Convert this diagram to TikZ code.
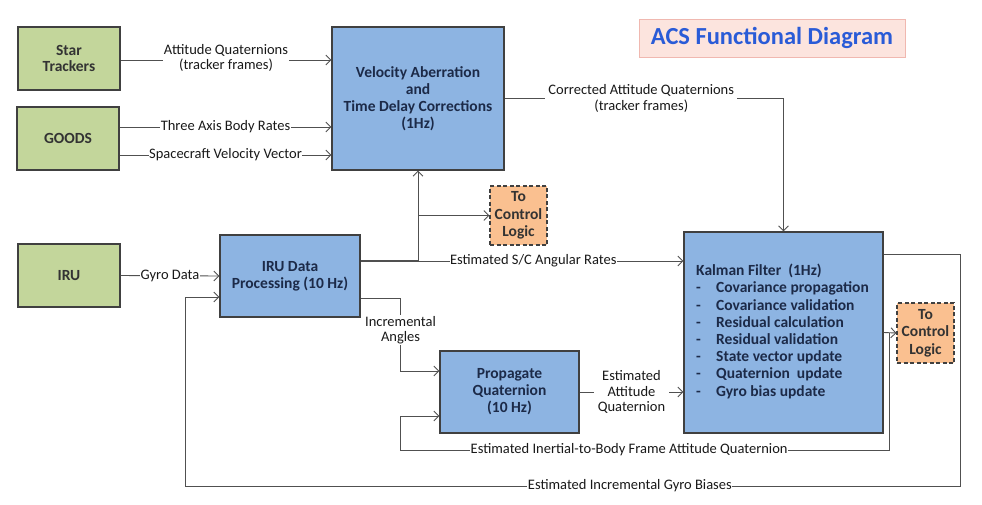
\documentclass[tikz,border=0pt]{standalone}
\usepackage{fontspec}
\setmainfont{Carlito}
\usetikzlibrary{arrows.meta,calc}
\definecolor{grfill}{HTML}{C3D69B}
\definecolor{blfill}{HTML}{8DB4E2}
\definecolor{orfill}{HTML}{FAC090}
\definecolor{lncol}{HTML}{505050}
\definecolor{txtblue}{HTML}{1C2A48}
\definecolor{ttlblue}{HTML}{2A5BD7}
\definecolor{ttlfill}{HTML}{FCE4DE}
\definecolor{ttlbord}{HTML}{F0B8B0}
\tikzset{
  gbox/.style={draw=black!75, line width=1.1pt, fill=grfill, align=center, font=\fontsize{15.5}{16.5}\selectfont\bfseries, text=black!80, inner sep=0pt},
  bbox/.style={draw=black!75, line width=1.1pt, fill=blfill, align=center, font=\fontsize{15.5}{17}\selectfont\bfseries, text=txtblue, inner sep=0pt},
  obox/.style={draw=black!75, line width=1.1pt, dashed, dash pattern=on 4pt off 2.5pt, fill=orfill, align=center, font=\fontsize{15.5}{17.5}\selectfont\bfseries, text=black!80, inner sep=0pt},
  arr/.style={draw=lncol, line width=0.9pt, -{Straight Barb[length=5pt,width=10pt,line width=0.9pt]}},
  ln/.style={draw=lncol, line width=0.9pt},
  lbl/.style={fill=white, inner sep=1pt, align=center, font=\fontsize{14.5}{15.5}\selectfont, text=black!90},
}
\begin{document}
\begin{tikzpicture}[x=1pt,y=-1pt]
\useasboundingbox (0,0) rectangle (982,504);
% title
\node[draw=ttlbord, fill=ttlfill, line width=0.8pt, minimum width=266pt, minimum height=38pt, font=\fontsize{24.5}{26}\selectfont\bfseries, text=ttlblue] (title) at (772,38) {ACS Functional Diagram};
% boxes
\node[gbox, minimum width=102pt, minimum height=63pt] (star) at (69,58.5) {Star\\Trackers};
\node[gbox, minimum width=102pt, minimum height=63pt] (goods) at (68,138.5) {GOODS};
\node[gbox, minimum width=102pt, minimum height=63pt] (iru) at (69,275.5) {IRU};
\node[bbox, minimum width=172pt, minimum height=143pt] (va) at (418,98.5) {Velocity Aberration\\and\\Time Delay Corrections\\(1Hz)};
\node[bbox, minimum width=140pt, minimum height=82pt] (irudp) at (290,276) {IRU Data\\Processing (10 Hz)};
\node[obox, minimum width=57pt, minimum height=59pt] (tcl1) at (518.5,215.5) {To\\Control\\Logic};
\node[bbox, minimum width=139pt, minimum height=82pt] (prop) at (509.5,392) {Propagate\\Quaternion\\(10 Hz)};
\node[bbox, minimum width=199pt, minimum height=201pt] (kal) at (783.5,332.5) {};
\node[anchor=north west, align=left, inner sep=0pt, font=\fontsize{15.5}{17.2}\selectfont\bfseries, text=txtblue] (kaltxt) at (696,264) {Kalman Filter\ \ (1Hz)\\
\makebox[20pt][l]{-}Covariance propagation\\
\makebox[20pt][l]{-}Covariance validation\\
\makebox[20pt][l]{-}Residual calculation\\
\makebox[20pt][l]{-}Residual validation\\
\makebox[20pt][l]{-}State vector update\\
\makebox[20pt][l]{-}Quaternion\ \ update\\
\makebox[20pt][l]{-}Gyro bias update};
\node[obox, minimum width=57pt, minimum height=60pt] (tcl2) at (925.5,333) {To\\Control\\Logic};
% coordinates
\coordinate (sA) at (star.east |- 0,60);
\coordinate (gA) at ([yshift=11.5pt]goods.east);
\coordinate (gB) at ([yshift=-16.5pt]goods.east);
\coordinate (dA) at ([yshift=15pt]irudp.east);
\coordinate (jn) at (dA -| va.south);
\coordinate (iA) at ([yshift=-22pt]irudp.east);
\coordinate (pA) at ([yshift=21pt]prop.west);
\coordinate (pB) at ([yshift=-24pt]prop.west);
\coordinate (kB) at ([yshift=78.5pt]kal.east);
\coordinate (iB) at ([yshift=-21pt]irudp.west);
\coordinate (fb1) at (960,486);
\coordinate (fb2) at (185,486);
\coordinate (kq) at ([xshift=6pt]kal.east);
\coordinate (lq) at (400,450);
% connectors
\draw[arr] (sA) -- (sA -| va.west) node[lbl, midway, yshift=2pt] {Attitude Quaternions\\(tracker frames)};
\draw[arr] (gA) -- (gA -| va.west) node[lbl, midway, inner xsep=0.5pt] {Three Axis Body Rates};
\draw[arr] (gB) -- (gB -| va.west) node[lbl, midway, inner xsep=0.5pt] {Spacecraft Velocity Vector};
\draw[arr] (va.east) -| node[lbl, pos=0.245, inner xsep=3pt] {Corrected Attitude Quaternions\\(tracker frames)} (kal.north);
\draw[arr] (iru.east) -- node[lbl, inner xsep=0.5pt] {Gyro Data} (irudp.west);
\draw[arr] (dA) -- node[lbl, pos=0.535, inner xsep=0.5pt] {Estimated S/C Angular Rates} (dA -| kal.west);
\draw[ln, line width=2pt] (dA) -- (jn);
\draw[arr] (jn) -- (va.south);
\draw[arr] (jn |- tcl1.west) -- (tcl1.west);
\draw[arr] (iA) -- ++(40,0) |- node[lbl, pos=0.22] {Incremental\\Angles} (pA);
\draw[arr] (prop.east) -- node[lbl, inner xsep=4pt] {Estimated\\Attitude\\Quaternion} (prop.east -| kal.west);
\draw[arr] (kal.east) -- (tcl2.west);
\draw[ln] (kq) |- node[lbl, pos=0.766, inner xsep=0.5pt] {Estimated Inertial-to-Body Frame Attitude Quaternion} (lq);
\draw[arr] (lq) |- (pB);
\draw[ln] (kB) -| (fb1) -- node[lbl, pos=0.426, inner xsep=0.5pt] {Estimated Incremental Gyro Biases} (fb2);
\draw[arr] (fb2) |- (iB);
\end{tikzpicture}
\end{document}
